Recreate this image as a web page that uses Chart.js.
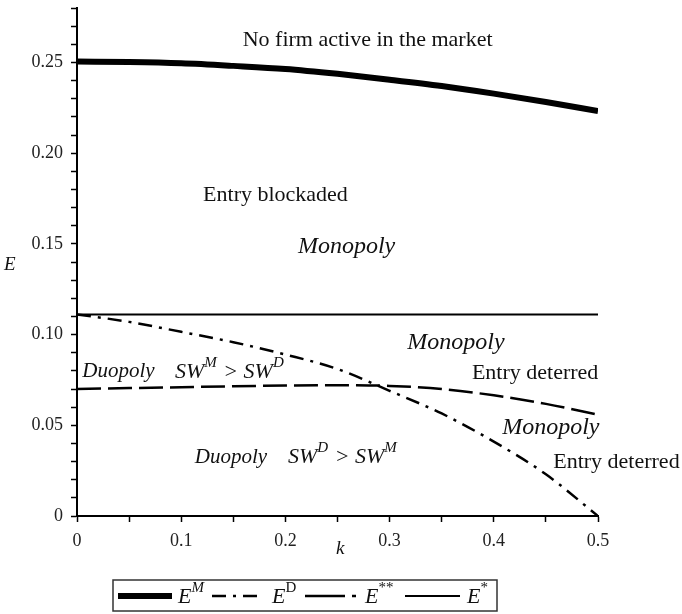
<!DOCTYPE html>
<html>
<head>
<meta charset="utf-8">
<script src="https://cdn.jsdelivr.net/npm/chart.js@4.4.1/dist/chart.umd.min.js"></script>
<style>
  body { margin: 0; background: #fff; }
  #wrap { width: 682px; height: 614px; position: relative; }
</style>
</head>
<body>
<div id="wrap"><canvas id="chart"></canvas></div>
<script>
// values
const kValues = [0, 0.05, 0.1, 0.15, 0.2, 0.25, 0.3, 0.35, 0.4, 0.45, 0.5];
const eMono = [0.2505, 0.2502, 0.2495, 0.2481, 0.2464, 0.2437, 0.2405, 0.2370, 0.2328, 0.2282, 0.2232];
const eDuo = [0.1111, 0.1070, 0.1015, 0.0958, 0.0890, 0.0810, 0.0690, 0.0565, 0.0410, 0.0230, 0.0];
const eStarStar = [0.0700, 0.0705, 0.0710, 0.0715, 0.0719, 0.0721, 0.0717, 0.0700, 0.0665, 0.0618, 0.0558];
const eStar = [0.1111, 0.1111, 0.1111, 0.1111, 0.1111, 0.1111, 0.1111, 0.1111, 0.1111, 0.1111, 0.1111];

const xTickLabels = ['0', '0.1', '0.2', '0.3', '0.4', '0.5'];
const yTickLabels = ['0', '0.05', '0.10', '0.15', '0.20', '0.25'];

// region labels, anchored in data units (k, E), left aligned
const regionNotes = [
  { k: 0.159, e: 0.2624, size: 22, runs: [['No firm active in the market', '']] },
  { k: 0.121, e: 0.1770, size: 22, runs: [['Entry blockaded', '']] },
  { k: 0.212, e: 0.1483, size: 24, runs: [['Monopoly', 'i']] },
  { k: 0.317, e: 0.0954, size: 24, runs: [['Monopoly', 'i']] },
  { k: 0.379, e: 0.0788, size: 22, runs: [['Entry deterred', '']] },
  { k: 0.408, e: 0.0485, size: 24, runs: [['Monopoly', 'i']] },
  { k: 0.457, e: 0.0298, size: 22, runs: [['Entry deterred', '']] },
  { k: 0.005, e: 0.0794, size: 21, runs: [['Duopoly', 'i']] },
  { k: 0.094, e: 0.0794, size: 22, runs: [['SW', 'i'], ['M', 'is'], [' > SW', 'i'], ['D', 'is']] },
  { k: 0.113, e: 0.0325, size: 21, runs: [['Duopoly', 'i']] },
  { k: 0.2025, e: 0.0325, size: 22, runs: [['SW', 'i'], ['D', 'is'], [' > SW', 'i'], ['M', 'is']] }
];

const serif = "'Liberation Serif', 'Times New Roman', serif";

function toPoints(vals) {
  return kValues.map((k, i) => ({ x: k, y: vals[i] }));
}

function drawRuns(ctx, x, y, runs, size) {
  ctx.textBaseline = 'middle';
  ctx.textAlign = 'left';
  runs.forEach(r => {
    const italic = r[1].indexOf('i') >= 0;
    const sup = r[1].indexOf('s') >= 0;
    const fs = sup ? Math.round(size * 0.66) : size;
    ctx.font = (italic ? 'italic ' : '') + fs + 'px ' + serif;
    ctx.fillText(r[0], x, sup ? y - size * 0.4 : y);
    x += ctx.measureText(r[0]).width + (sup ? 1 : 0);
  });
  return x;
}

function isStep(v, step) {
  return Math.abs(v / step - Math.round(v / step)) < 1e-6;
}

const decor = {
  id: 'decor',
  afterDraw(chart) {
    const ctx = chart.ctx;
    const xs = chart.scales.x, ys = chart.scales.y;
    ctx.save();
    ctx.fillStyle = '#111';

    // axis titles
    drawRuns(ctx, 4, 265, [['E', 'i']], 19);
    drawRuns(ctx, 336, 549, [['k', 'i']], 19);

    regionNotes.forEach(n => {
      drawRuns(ctx, xs.getPixelForValue(n.k), ys.getPixelForValue(n.e), n.runs, n.size);
    });

    // legend box
    ctx.strokeStyle = '#333';
    ctx.lineWidth = 1.5;
    ctx.strokeRect(113, 580, 384, 31);
    const ly = 596;
    const samples = [
      { x0: 118, x1: 172, w: 6, dash: [], label: [['E', 'i'], ['M', 'is']], lx: 178 },
      { x0: 212, x1: 263, w: 2.5, dash: [14, 7, 3, 7], label: [['E', 'i'], ['D', 's']], lx: 272 },
      { x0: 305, x1: 360, w: 2.5, dash: [40, 7, 4, 7], label: [['E', 'i'], ['**', 's']], lx: 365 },
      { x0: 405, x1: 460, w: 2, dash: [], label: [['E', 'i'], ['*', 's']], lx: 467 }
    ];
    samples.forEach(s => {
      ctx.beginPath();
      ctx.setLineDash(s.dash);
      ctx.lineWidth = s.w;
      ctx.strokeStyle = '#000';
      ctx.moveTo(s.x0, ly);
      ctx.lineTo(s.x1, ly);
      ctx.stroke();
      ctx.setLineDash([]);
      drawRuns(ctx, s.lx, ly + 1, s.label, 22);
    });
    ctx.restore();
  }
};

new Chart(document.getElementById('chart'), {
  type: 'line',
  data: {
    datasets: [
      { label: 'E^M', data: toPoints(eMono), borderColor: '#000', borderWidth: 6, pointRadius: 0, cubicInterpolationMode: 'monotone' },
      { label: 'E^D', data: toPoints(eDuo), borderColor: '#000', borderWidth: 2.5, borderDash: [14, 7, 3, 7], pointRadius: 0, cubicInterpolationMode: 'monotone' },
      { label: 'E**', data: toPoints(eStarStar), borderColor: '#000', borderWidth: 2.5, borderDash: [24, 7], pointRadius: 0, cubicInterpolationMode: 'monotone' },
      { label: 'E*', data: toPoints(eStar), borderColor: '#000', borderWidth: 2, pointRadius: 0 }
    ]
  },
  options: {
    responsive: true,
    maintainAspectRatio: false,
    animation: false,
    layout: { padding: { top: 8, right: 84, left: 0, bottom: 0 } },
    plugins: { legend: { display: false }, tooltip: { enabled: false } },
    scales: {
      x: {
        type: 'linear',
        min: 0, max: 0.5,
        border: { color: '#000', width: 2 },
        grid: { drawOnChartArea: false, drawTicks: true, tickLength: 6, color: '#000', tickWidth: 1.5 },
        ticks: {
          stepSize: 0.05, autoSkip: false, maxRotation: 0, maxTicksLimit: 40, padding: 8,
          color: '#222', font: { family: serif, size: 18 },
          callback: v => isStep(v, 0.1) ? xTickLabels[Math.round(v * 10)] : ''
        },
        afterFit: s => { s.height = 98; s.paddingLeft = 0; s.paddingRight = 0; }
      },
      y: {
        type: 'linear',
        min: 0, max: 0.28,
        border: { color: '#000', width: 2 },
        grid: { drawOnChartArea: false, drawTicks: true, tickLength: 6, color: '#000', tickWidth: 1.5 },
        ticks: {
          stepSize: 0.01, autoSkip: false, maxTicksLimit: 40, padding: 8,
          color: '#222', font: { family: serif, size: 18 },
          callback: v => isStep(v, 0.05) ? yTickLabels[Math.round(v * 20)] : ''
        },
        afterFit: s => { s.width = 77; s.paddingTop = 0; s.paddingBottom = 0; }
      }
    }
  },
  plugins: [decor]
});
</script>
</body>
</html>
